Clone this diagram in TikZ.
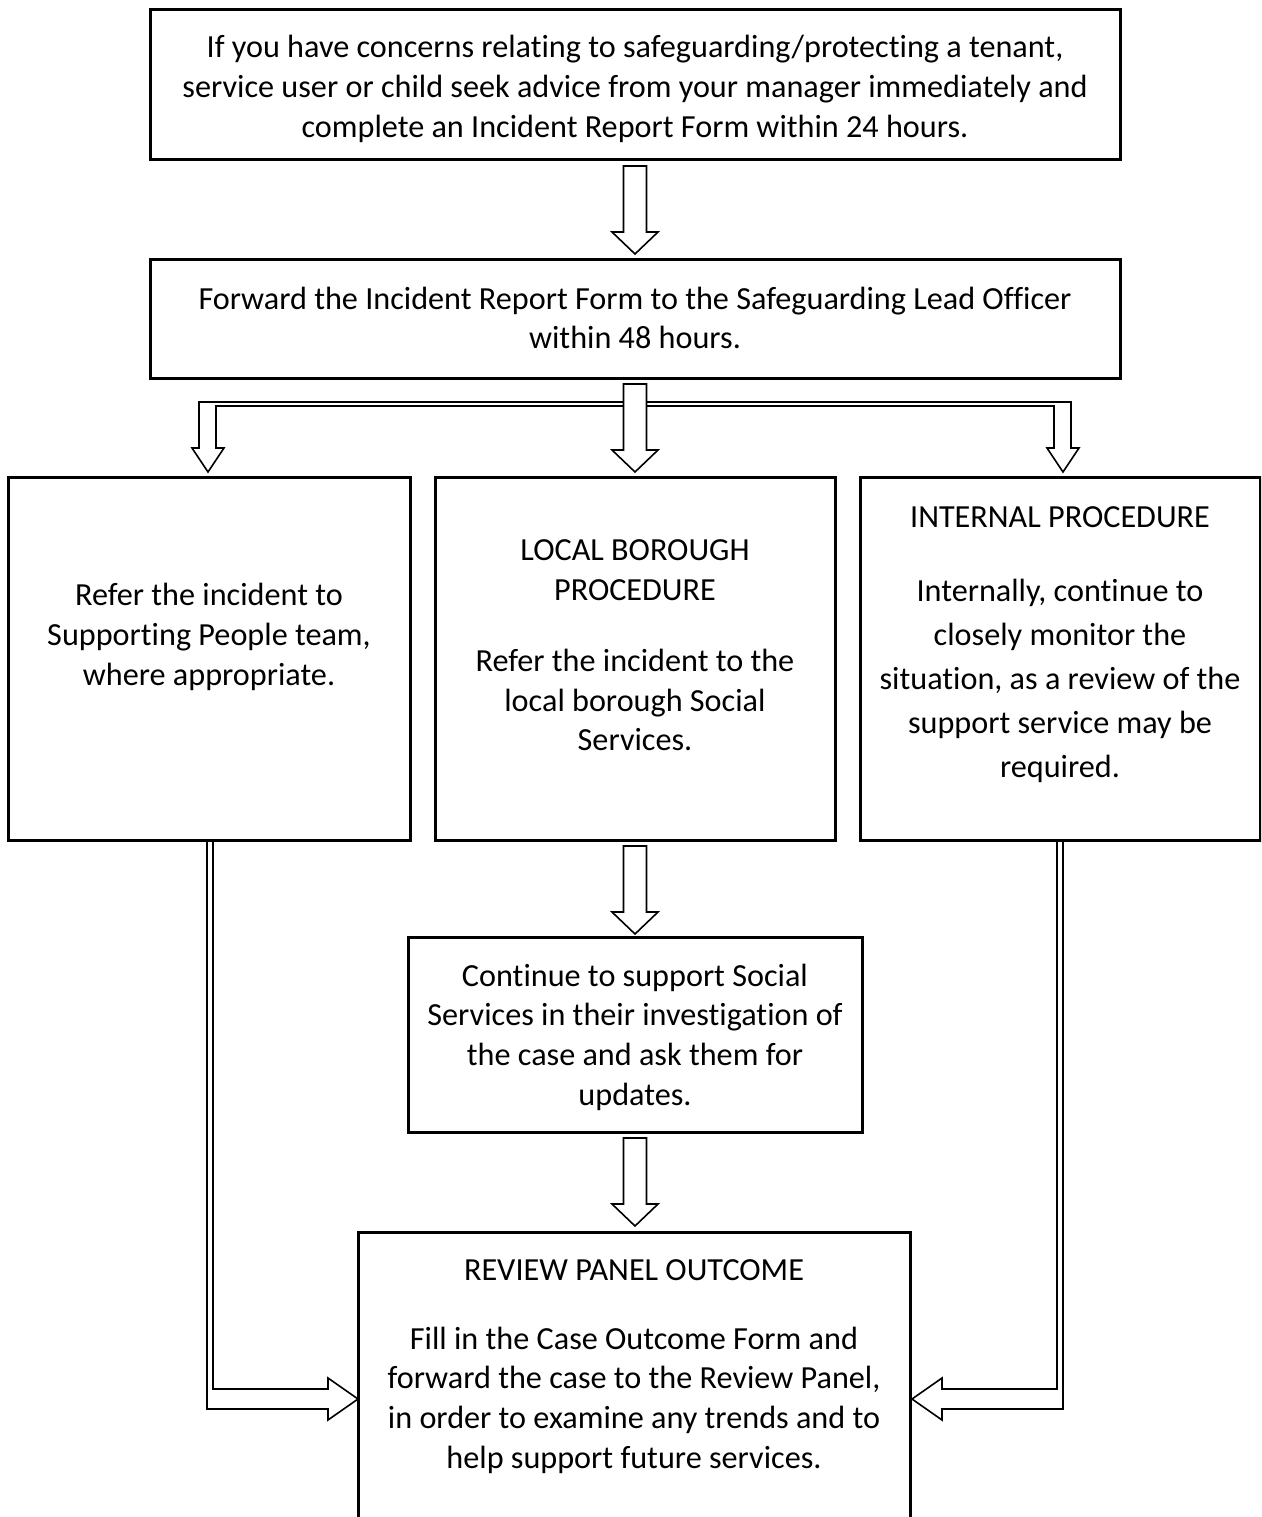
\documentclass[tikz,border=0pt]{standalone}
\usepackage{fontspec}
\setmainfont{Carlito}[Ligatures=NoCommon]
\usetikzlibrary{calc}
\tikzset{
  box/.style={draw, line width=3pt, inner sep=0pt, outer sep=0pt},
  txt/.style={align=center, inner sep=0pt, font=\fontsize{32.2}{39.7}\selectfont},
  arrline/.style={draw, line width=1.6pt, fill=white, line join=miter},
  downarr/.pic={\draw[arrline] (-11.5,0) -- (-11.5,66) -- (-23,66) -- (0,88) -- (23,66) -- (11.5,66) -- (11.5,0) -- cycle;},
}

\begin{document}
\begin{tikzpicture}[x=1pt, y=-1pt]
  \useasboundingbox (0,0) rectangle (1261,1517);
  \clip (0,0) rectangle (1261,1517);
  \fill[white] (0,0) rectangle (1261,1517);
  % first two steps
  \node[box, minimum width=970, minimum height=150] (b1) at (635,85) {};
  \node[txt] (t1) at (635,89) {If you have concerns relating to safeguarding/protecting a tenant,\\ service user or child seek advice from your manager immediately and\\ complete an Incident Report Form within 24 hours.};
  \node[box, minimum width=970, minimum height=119] (b2) at (635,318.5) {};
  \node[txt] (t2) at (635,318) {Forward the Incident Report Form to the Safeguarding Lead Officer\\ within 48 hours.};
  \pic at ($(b1.south)+(0,6)$) {downarr};
  % three procedures
  \node[box, minimum width=402, minimum height=363] (b3) at (209,658.5) {};
  \node[txt] (t3) at (209,637) {Refer the incident to\\ Supporting People team,\\ where appropriate.};
  \node[box, minimum width=400, minimum height=363] (b4) at (635,658.5) {};
  \node[txt] (t4a) at (635,570) {LOCAL BOROUGH\\ PROCEDURE};
  \node[txt] (t4b) at (635,700) {Refer the incident to the\\ local borough Social\\ Services.};
  \node[box, minimum width=400, minimum height=363] (b5) at (1060,658.5) {};
  \node[txt] (t5a) at (1060,517) {INTERNAL PROCEDURE};
  \node[txt, font=\fontsize{32.2}{44.2}\selectfont] (t5b) at (1060,681) {Internally, continue to\\ closely monitor the\\ situation, as a review of the\\ support service may be\\ required.};
  % branching arrow
  \draw[arrline] (199,448) -- (199,402) -- (1071,402) -- (1071,448) -- (1079,448) -- (1063,472) -- (1047,448) -- (1054,448)
    -- (1054,406) -- (216,406) -- (216,448) -- (224,448) -- (208,472) -- (192,448) -- cycle;
  \pic at ($(b2.south)+(0,6)$) {downarr};
  % social services
  \node[box, minimum width=454, minimum height=195] (b6) at (635,1034.5) {};
  \node[txt] (t6) at (635,1037) {Continue to support Social\\ Services in their investigation of\\ the case and ask them for\\ updates.};
  \pic at ($(b4.south)+(0,6)$) {downarr};
  % review panel
  \node[box, minimum width=552, minimum height=348] (b7) at (634,1406) {};
  \node[txt] (t7a) at (634,1270) {REVIEW PANEL OUTCOME};
  \node[txt] (t7b) at (634,1400) {Fill in the Case Outcome Form and\\ forward the case to the Review Panel,\\ in order to examine any trends and to\\ help support future services.};
  \pic at ($(b6.south)+(0,6)$) {downarr};
  % long bent arrows
  \draw[arrline, fill=none] (213,842) -- (213,1389) -- (328,1389) -- (328,1378) -- (358,1399) -- (328,1420) -- (328,1409) -- (207,1409) -- (207,842);
  \draw[arrline, fill=none] (1057,842) -- (1057,1389) -- (942,1389) -- (942,1378) -- (912,1399) -- (942,1420) -- (942,1409) -- (1063,1409) -- (1063,842);
\end{tikzpicture}
\end{document}
